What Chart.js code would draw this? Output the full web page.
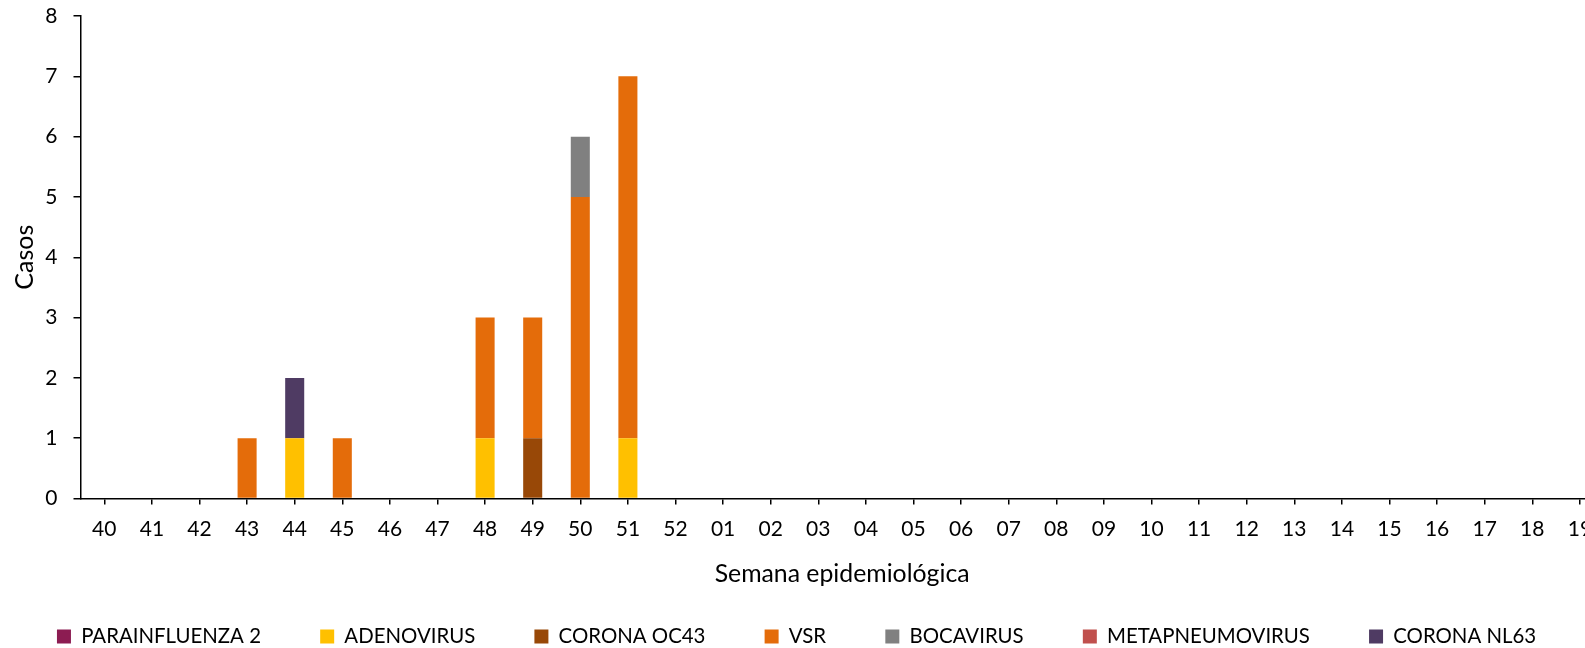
<!DOCTYPE html>
<html><head><meta charset="utf-8">
<script src="https://cdn.jsdelivr.net/npm/chart.js@4"></script>
<style>
html,body{margin:0;padding:0;overflow:hidden;background:#fff;width:1585px;height:648px}
#wrap{position:absolute;left:0;top:0;width:1610px;height:648px}
</style>
</head><body>
<div id="wrap"><canvas id="c" width="1610" height="648"></canvas></div>
<script>
const weeks = ['40','41','42','43','44','45','46','47','48','49','50','51','52','01','02','03','04','05','06','07','08','09','10','11','12','13','14','15','16','17','18','19'];
const parainfluenza2  = [0,0,0,0,0,0,0,0,0,0,0,0,0,0,0,0,0,0,0,0,0,0,0,0,0,0,0,0,0,0,0,0];
const adenovirus      = [0,0,0,0,1,0,0,0,1,0,0,1,0,0,0,0,0,0,0,0,0,0,0,0,0,0,0,0,0,0,0,0];
const coronaOC43      = [0,0,0,0,0,0,0,0,0,1,0,0,0,0,0,0,0,0,0,0,0,0,0,0,0,0,0,0,0,0,0,0];
const vsr             = [0,0,0,1,0,1,0,0,2,2,5,6,0,0,0,0,0,0,0,0,0,0,0,0,0,0,0,0,0,0,0,0];
const bocavirus       = [0,0,0,0,0,0,0,0,0,0,1,0,0,0,0,0,0,0,0,0,0,0,0,0,0,0,0,0,0,0,0,0];
const metapneumovirus = [0,0,0,0,0,0,0,0,0,0,0,0,0,0,0,0,0,0,0,0,0,0,0,0,0,0,0,0,0,0,0,0];
const coronaNL63      = [0,0,0,0,1,0,0,0,0,0,0,0,0,0,0,0,0,0,0,0,0,0,0,0,0,0,0,0,0,0,0,0];
const yTicks = [0,1,2,3,4,5,6,7,8];

const FONT = 'Lato';
const series = [
  {label:'PARAINFLUENZA 2', data:parainfluenza2, color:'#8C1C52'},
  {label:'ADENOVIRUS', data:adenovirus, color:'#FFC000'},
  {label:'CORONA OC43', data:coronaOC43, color:'#984807'},
  {label:'VSR', data:vsr, color:'#E46C0A'},
  {label:'BOCAVIRUS', data:bocavirus, color:'#808080'},
  {label:'METAPNEUMOVIRUS', data:metapneumovirus, color:'#C0504D'},
  {label:'CORONA NL63', data:coronaNL63, color:'#4F3B63'}
];

new Chart(document.getElementById('c'), {
  type:'bar',
  data:{
    labels:weeks,
    datasets:series.map(s=>({label:s.label, data:s.data, backgroundColor:s.color, borderWidth:0, barPercentage:0.4, categoryPercentage:1.0}))
  },
  options:{
    responsive:false, animation:false,
    layout:{padding:{left:-10.6, right:6.3, top:16, bottom:0}},
    plugins:{
      legend:{position:'bottom', maxHeight:81,
        labels:{boxWidth:14, boxHeight:14, padding:59.2, color:'#000', font:{family:FONT, size:20.4}}},
      tooltip:{enabled:false}
    },
    scales:{
      x:{stacked:true, offset:true,
        grid:{display:true, drawOnChartArea:false, drawTicks:true, tickLength:6, offset:false, color:'#000', lineWidth:1.5},
        border:{display:true, color:'#000', width:1.5},
        ticks:{color:'#000', font:{family:FONT, size:21}, padding:12, maxRotation:0, autoSkip:false},
        title:{display:true, text:'Semana epidemiológica', color:'#000', font:{family:FONT, size:24.8}, padding:{top:0, bottom:-21.5}},
        afterFit(s){ s.height = 68.5; s.paddingLeft = 0; s.paddingRight = 0; }
      },
      y:{stacked:true, min:0, max:8,
        afterBuildTicks(s){ s.ticks = yTicks.map(v=>({value:v})); },
        ticks:{color:'#000', font:{family:FONT, size:21}, padding:16},
        grid:{display:true, drawOnChartArea:false, drawTicks:true, tickLength:7, color:'#000', lineWidth:1.5},
        border:{display:true, color:'#000', width:1.5},
        title:{display:true, text:'Casos', color:'#000', font:{family:FONT, size:25}, padding:{top:20.5, bottom:0}},
        afterFit(s){ s.width = 91.1; s.paddingTop = 0; s.paddingBottom = 0; }
      }
    }
  }
});
</script>
</body></html>
